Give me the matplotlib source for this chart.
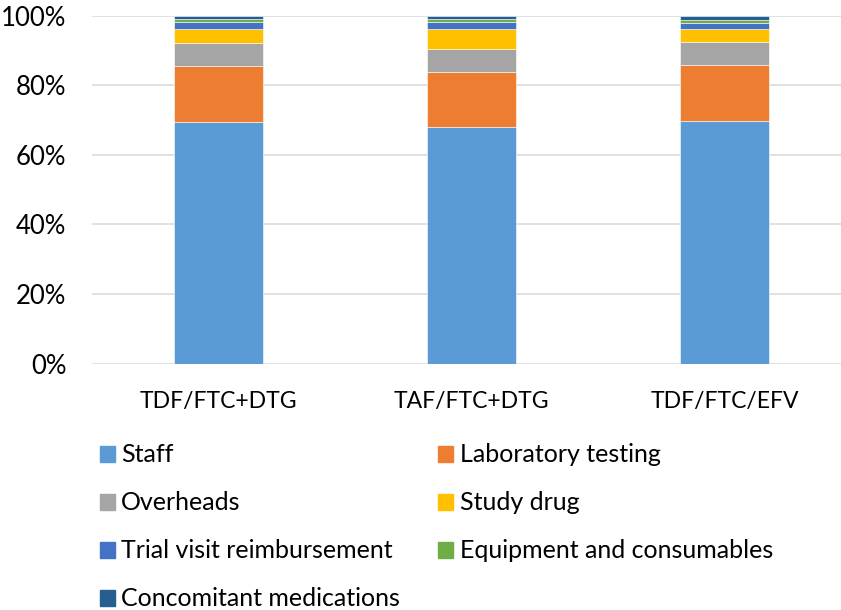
import matplotlib.pyplot as plt
import matplotlib.patches as mpatches
import numpy as np

# percentages of total cost per regimen
regimens = ["TDF/FTC+DTG", "TAF/FTC+DTG", "TDF/FTC/EFV"]
staff = [69.4, 67.9, 69.8]
laboratory = [16.2, 16.0, 15.9]
overheads = [6.5, 6.4, 6.7]
study_drug = [4.2, 6.0, 3.7]
trial_visit = [1.8, 1.8, 1.7]
equipment = [1.0, 1.0, 1.0]
concomitant = [0.9, 0.9, 1.1]

series = [
    ("Staff", staff, "#5B9BD5"),
    ("Laboratory testing", laboratory, "#ED7D31"),
    ("Overheads", overheads, "#A5A5A5"),
    ("Study drug", study_drug, "#FFC000"),
    ("Trial visit reimbursement", trial_visit, "#4472C4"),
    ("Equipment and consumables", equipment, "#70AD47"),
    ("Concomitant medications", concomitant, "#255E91"),
]

plt.rcParams["font.family"] = ["Lato", "DejaVu Sans"]

fig = plt.figure(figsize=(8.41, 6.10), dpi=100)
ax = fig.add_axes([92 / 841, 246.3 / 610, 759 / 841, 348 / 610])

x = np.arange(len(regimens))
bottom = np.zeros(len(regimens))
handles = []
for name, vals, color in series:
    vals = np.asarray(vals)
    ax.bar(x, vals, width=0.352, bottom=bottom, color=color,
           edgecolor="white", linewidth=0.4, zorder=3)
    bottom += vals
    handles.append(mpatches.Patch(color=color, label=name))

ax.set_xlim(-0.5, 2.5)
ax.set_ylim(0, 100)
ax.set_yticks(np.arange(0, 101, 20))
ax.set_yticklabels([f"{v}%" for v in range(0, 101, 20)])
ax.set_xticks(x)
ax.set_xticklabels(regimens)
ax.grid(True, axis="y", color="#D9D9D9", linewidth=1.1, zorder=0)
for spine in ax.spines.values():
    spine.set_visible(False)
ax.tick_params(length=0, colors="black")
ax.tick_params(axis="y", pad=18.5, labelsize=18.5)
ax.tick_params(axis="x", pad=20, labelsize=16.5)

# row-major order for a two-column legend
order = [0, 2, 4, 6, 1, 3, 5]
fig.legend([handles[i] for i in order], [handles[i].get_label() for i in order],
           ncol=2, loc="upper left", bbox_to_anchor=(77 / 841, 1 - 421 / 610),
           frameon=False, fontsize=18, handlelength=0.6, handleheight=0.6,
           handletextpad=0.25, labelspacing=1.0, columnspacing=1.55)

fig.savefig("out.png", dpi=100)
